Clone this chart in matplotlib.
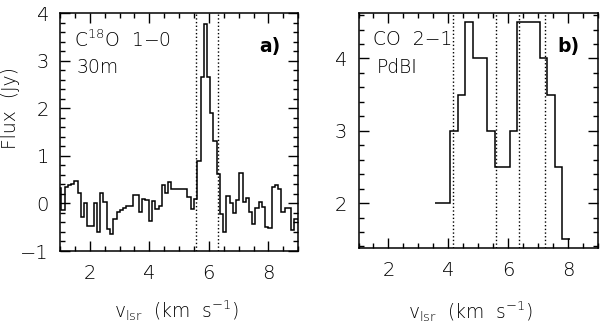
import matplotlib
matplotlib.use('Agg')
import matplotlib.pyplot as plt
from matplotlib.ticker import MultipleLocator

# panel a: C18O 1-0 spectrum from the 30m (channel edges in km/s, flux in Jy)
c18o_edges = [0.94, 1.05, 1.16, 1.27, 1.37, 1.48, 1.59, 1.70, 1.81, 1.92,
              2.03, 2.14, 2.24, 2.35, 2.46, 2.57, 2.68, 2.79, 2.90, 3.00,
              3.11, 3.22, 3.33, 3.44, 3.55, 3.66, 3.76, 3.87, 3.98, 4.09,
              4.20, 4.31, 4.42, 4.52, 4.63, 4.74, 4.85, 4.96, 5.07, 5.18,
              5.28, 5.39, 5.50, 5.61, 5.72, 5.83, 5.94, 6.04, 6.15, 6.26,
              6.37, 6.48, 6.59, 6.70, 6.80, 6.91, 7.02, 7.13, 7.24, 7.35,
              7.46, 7.56, 7.67, 7.78, 7.89, 8.00, 8.11, 8.22, 8.32, 8.43,
              8.54, 8.65, 8.76, 8.87, 8.98, 9.09]
c18o_flux = [0.32, -0.13, 0.35, 0.38, 0.40, 0.48, 0.21, -0.28, 0.00, -0.48,
             -0.48, 0.00, -0.60, 0.21, 0.03, -0.54, -0.65, -0.32, -0.18, -0.13,
             -0.09, -0.06, -0.05, 0.18, 0.18, -0.18, 0.09, 0.08, -0.37, 0.05,
             -0.11, -0.05, 0.39, 0.21, 0.46, 0.30, 0.30, 0.30, 0.31, 0.30,
             0.14, -0.11, 0.10, 0.90, 2.67, 3.78, 2.67, 1.91, 1.31, 0.61,
             -0.23, -0.60, 0.15, 0.00, -0.20, 0.07, 0.65, 0.03, 0.12, -0.17,
             -0.44, -0.10, 0.03, -0.08, -0.49, -0.52, 0.35, 0.39, 0.30, -0.17,
             -0.10, -0.10, -0.56, -0.32, -0.32]
c18o_marks = [5.58, 6.30]

# panel b: CO 2-1 from PdBI
co_edges = [3.56, 3.81, 4.06, 4.31, 4.56, 4.81, 5.06, 5.31, 5.56, 5.81,
            6.06, 6.31, 6.56, 6.81, 7.06, 7.31, 7.56, 7.81, 8.06]
co_flux = [2.0, 2.0, 3.0, 3.5, 4.5, 4.0, 4.0, 3.0, 2.5, 2.5,
           3.0, 4.5, 4.5, 4.5, 4.0, 3.5, 2.5, 1.5]
co_marks = [4.17, 5.58, 6.38, 7.23]

plt.rcParams['font.family'] = 'DejaVu Sans'
plt.rcParams['font.weight'] = 'light'
plt.rcParams['axes.labelweight'] = 'light'
plt.rcParams['font.size'] = 13.5
plt.rcParams['mathtext.default'] = 'regular'

fig = plt.figure(figsize=(6, 3.27), dpi=100)
ax1 = fig.add_axes([0.100, 0.2324, 0.397, 0.727])
ax2 = fig.add_axes([0.5975, 0.2407, 0.399, 0.7186])

xlab = r'v$_{lsr}$  (km  s$^{-1}$)'


def style_axes(ax):
    for s in ax.spines.values():
        s.set_linewidth(1.1)
    ax.tick_params(which='both', direction='in', top=True, right=True, width=1.0)
    ax.tick_params(which='major', length=7.5, labelsize=14)
    ax.tick_params(which='minor', length=3.8)
    ax.tick_params(axis='x', pad=9)
    ax.tick_params(axis='y', pad=8)
    ax.xaxis.set_major_locator(MultipleLocator(2))
    ax.xaxis.set_minor_locator(MultipleLocator(0.5))
    ax.yaxis.set_minor_locator(MultipleLocator(0.2))


# ---- panel a ----
ax1.stairs(c18o_flux, c18o_edges, baseline=None, color='k', lw=1.1)
for v in c18o_marks:
    ax1.axvline(v, color='k', ls=':', lw=1.0)
ax1.set_xlim(1, 9)
ax1.set_ylim(-1, 4)
ax1.yaxis.set_major_locator(MultipleLocator(1))
style_axes(ax1)
ax1.set_ylabel('Flux  (Jy)')
ax1.yaxis.set_label_coords(-0.168, 0.6)
ax1.set_xlabel(xlab)
ax1.xaxis.set_label_coords(0.49, -0.2)
ax1.text(0.06, 0.93, r'C$^{18}$O  1−0', transform=ax1.transAxes, va='top', ha='left')
ax1.text(0.07, 0.81, '30m', transform=ax1.transAxes, va='top', ha='left')
ax1.text(0.925, 0.90, 'a)', transform=ax1.transAxes, va='top', ha='right',
         fontweight='bold')

# ---- panel b ----
ax2.stairs(co_flux, co_edges, baseline=None, color='k', lw=1.1)
for v in co_marks:
    ax2.axvline(v, color='k', ls=':', lw=1.0)
ax2.set_xlim(1, 9)
ax2.set_ylim(1.375, 4.625)
ax2.yaxis.set_major_locator(MultipleLocator(1))
style_axes(ax2)
ax2.set_xlabel(xlab)
ax2.xaxis.set_label_coords(0.47, -0.215)
ax2.text(0.06, 0.93, 'CO  2−1', transform=ax2.transAxes, va='top', ha='left')
ax2.text(0.075, 0.81, 'PdBI', transform=ax2.transAxes, va='top', ha='left')
ax2.text(0.925, 0.90, 'b)', transform=ax2.transAxes, va='top', ha='right',
         fontweight='bold')

fig.savefig('out.png', dpi=100)
